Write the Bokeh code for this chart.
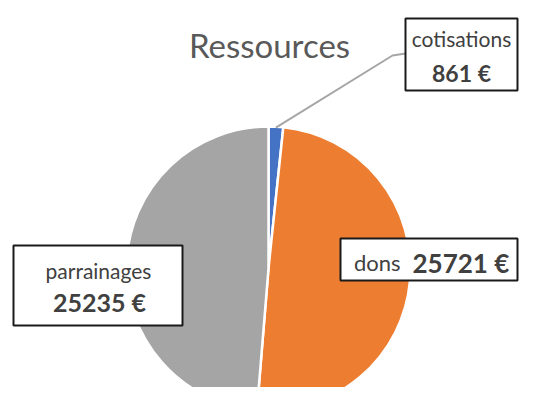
import math
from bokeh.plotting import figure
from bokeh.models import Range1d
from bokeh.core.properties import value
from bokeh.embed import file_html
from bokeh.resources import INLINE

# ---- data ----
categories = ["cotisations", "dons", "parrainages"]
amounts = [861, 25721, 25235]
colors = ["#4472C4", "#ED7D31", "#A5A5A5"]
title_text = "Ressources"

# ---- layout (picture pixel coordinates, y measured from top) ----
W, H = 519, 387
PAGE_H = 403
cx, cy_px, R = 268, 268, 142
cy = PAGE_H - cy_px

p = figure(width=W, height=H, output_backend="svg", toolbar_location=None,
           x_range=Range1d(0, W), y_range=Range1d(PAGE_H - H, PAGE_H),
           min_border=0)
p.axis.visible = False
p.grid.visible = False
p.outline_line_color = None
p.background_fill_color = "white"

total = sum(amounts)
starts, ends = [], []
cum = 0.0
for a in amounts:
    frac0 = cum / total
    cum += a
    frac1 = cum / total
    # clockwise from 12 o'clock
    starts.append(math.pi / 2 - 2 * math.pi * frac1)
    ends.append(math.pi / 2 - 2 * math.pi * frac0)

p.wedge(x=[cx] * 3, y=[cy] * 3, radius=R, start_angle=starts, end_angle=ends,
        fill_color=colors, line_color="white", line_width=2.5)

def Y(py):
    return PAGE_H - py

font = value("Lato")
tcol = "#404040"

# title
p.text(x=[269], y=[Y(44)], text=[title_text], text_font=font, text_font_size="33px",
       text_color="#595959", text_align="center", text_baseline="middle")

# label boxes
boxes = {
    "cotisations": (405, 517, 18, 90),
    "dons": (340, 517, 238, 280),
    "parrainages": (13, 182, 245, 325),
}

# leader line for cotisations
mid = (starts[0] + ends[0]) / 2
lx0 = cx + (R - 1) * math.cos(mid)
ly0 = cy + (R - 1) * math.sin(mid)
bl = boxes["cotisations"][0]
p.line(x=[lx0, bl - 13, bl], y=[ly0, Y(55), Y(53)], line_color="#A6A6A6", line_width=2)

for k, (l, r, t, b) in boxes.items():
    p.quad(left=[l], right=[r], top=[Y(t)], bottom=[Y(b)], fill_color="white",
           line_color="#1a1a1a", line_width=2)

def fmt(v):
    return f"{v} €"

# cotisations
cxl = (boxes["cotisations"][0] + boxes["cotisations"][1]) / 2
p.text(x=[cxl], y=[Y(38)], text=[categories[0]], text_font=font, text_font_size="21px",
       text_color=tcol, text_align="center", text_baseline="middle")
p.text(x=[cxl], y=[Y(72)], text=[fmt(amounts[0])], text_font=font, text_font_size="23px",
       text_font_style="bold", text_color=tcol, text_align="center", text_baseline="middle")

# dons
p.text(x=[400], y=[Y(262)], text=[categories[1]], text_font=font, text_font_size="22px",
       text_color=tcol, text_align="right", text_baseline="middle")
p.text(x=[412], y=[Y(262)], text=[fmt(amounts[1])], text_font=font, text_font_size="26px",
       text_font_style="bold", text_color=tcol, text_align="left", text_baseline="middle")

# parrainages
p.text(x=[98], y=[Y(270)], text=[categories[2]], text_font=font, text_font_size="21px",
       text_color=tcol, text_align="center", text_baseline="middle")
p.text(x=[99], y=[Y(301)], text=[fmt(amounts[2])], text_font=font, text_font_size="25px",
       text_font_style="bold", text_color=tcol, text_align="center", text_baseline="middle")

open("out.html", "w").write(file_html(p, INLINE))
